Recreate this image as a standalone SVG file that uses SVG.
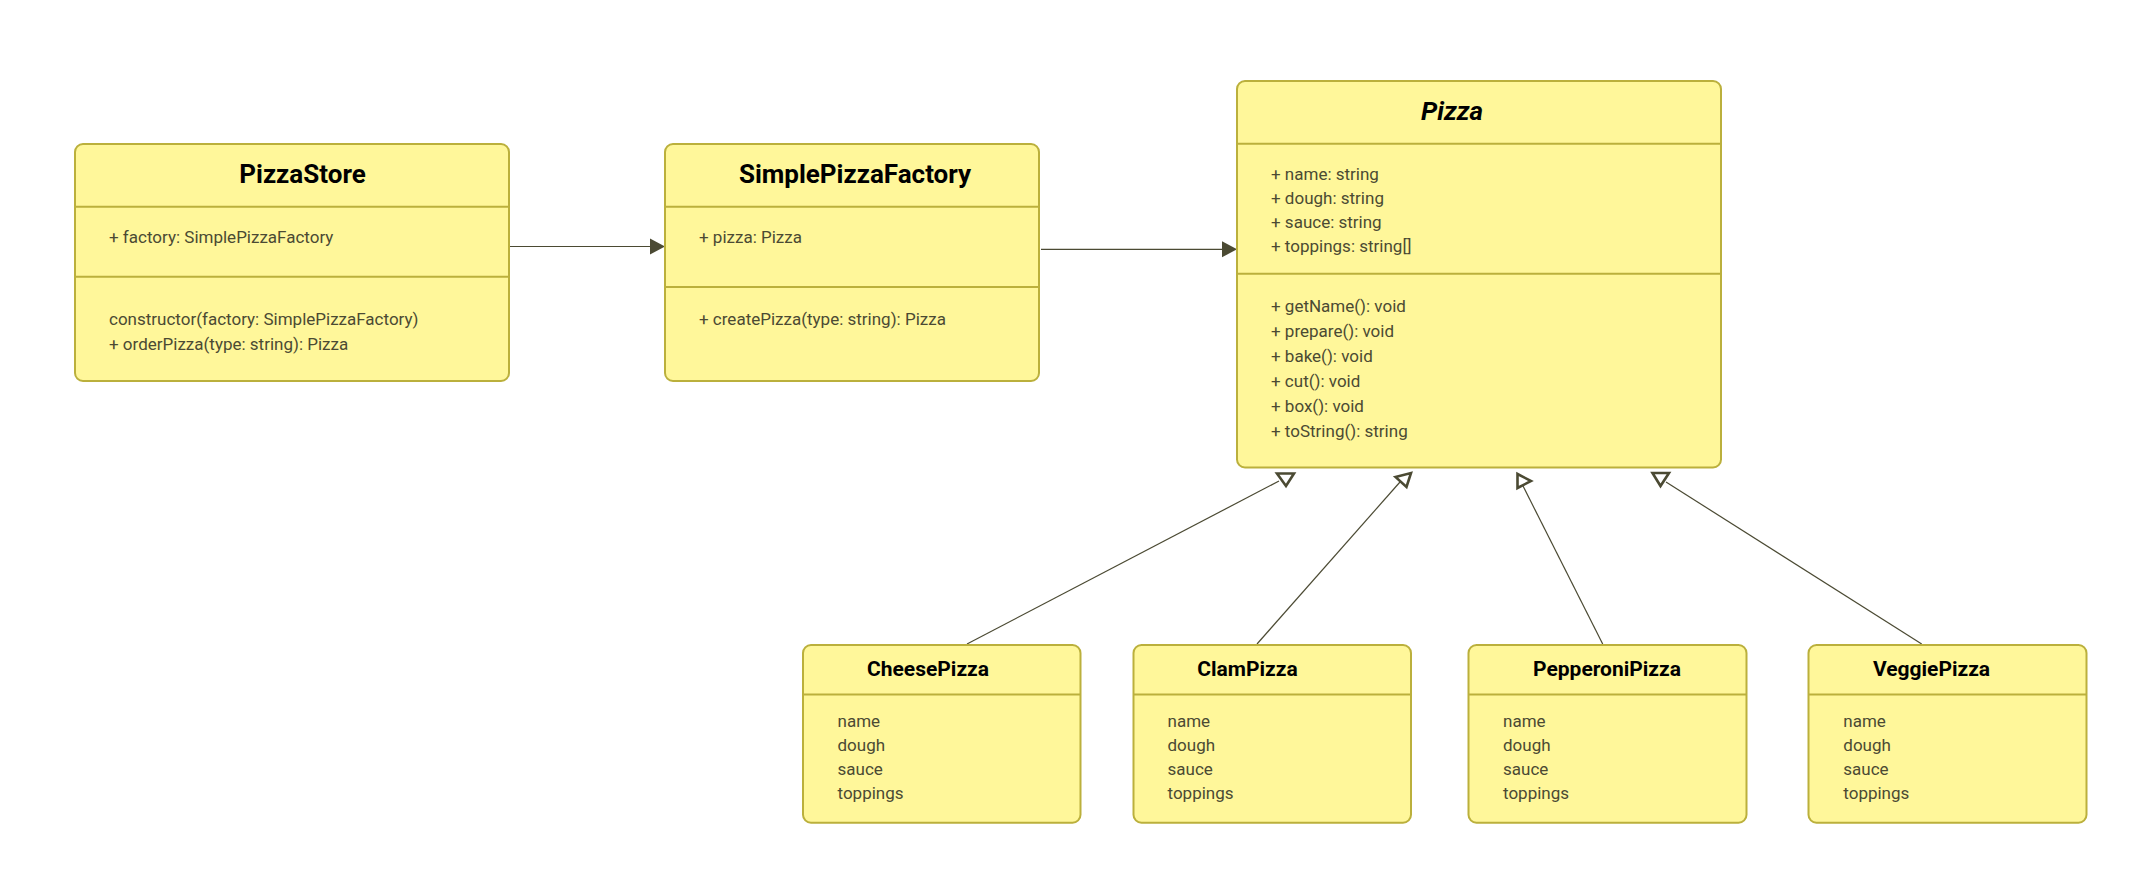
<svg xmlns="http://www.w3.org/2000/svg" width="2129" height="894" viewBox="0 0 2129 894">
<defs>
<style>
.box{fill:#fff79a;stroke:#bbb03c;stroke-width:2}
.div{stroke:#bbb03c;stroke-width:2}
.title{font-family:Roboto,"Liberation Sans",sans-serif;font-weight:bold;font-size:26px;fill:#000;text-anchor:middle}
.sub{font-size:21px}
.ital{font-style:italic}
.mem{font-family:Roboto,"Liberation Sans",sans-serif;font-size:17px;fill:#4b4a33}
.edge{fill:none;stroke:#4b4a33;stroke-width:1.2}
.arrow{fill:#4b4a33;stroke:none}
.ext{fill:#fff;stroke:#4b4a33;stroke-width:2.6;stroke-linejoin:miter}
</style>
</defs>
<rect width="2129" height="894" fill="#fff"/>
<g id="connectors">
<path class="edge" d="M510,246.5 H652"/>
<polygon class="arrow" points="650,238.5 665,246.5 650,254.5"/>
<path class="edge" d="M1041,249.3 H1224"/>
<polygon class="arrow" points="1222,241.3 1237,249.3 1222,257.3"/>
<path class="edge" d="M967,644 L1279,481"/>
<polygon class="ext" points="1277,473.5 1294,473.5 1286,486"/>
<path class="edge" d="M1257,644 L1400,482"/>
<polygon class="ext" points="1395.5,477 1411,473 1406.5,487"/>
<path class="edge" d="M1602.7,644 L1521,482"/>
<polygon class="ext" points="1517.5,474 1531,481 1517.5,488"/>
<path class="edge" d="M1921.7,644 L1666,482"/>
<polygon class="ext" points="1652.5,473 1669,473 1660.5,486"/>
</g>
<g id="PizzaStore">
<rect class="box" x="75" y="144" width="434" height="237" rx="8"/>
<line class="div" x1="75" y1="206.7" x2="509" y2="206.7"/>
<line class="div" x1="75" y1="276.7" x2="509" y2="276.7"/>
<text class="title" x="302.5" y="183">PizzaStore</text>
<text class="mem" x="109" y="243.3">+ factory: SimplePizzaFactory</text>
<text class="mem" x="109" y="325.3">constructor(factory: SimplePizzaFactory)</text>
<text class="mem" x="109" y="350.3">+ orderPizza(type: string): Pizza</text>
</g>
<g id="SimplePizzaFactory">
<rect class="box" x="665" y="144" width="374" height="237" rx="8"/>
<line class="div" x1="665" y1="206.7" x2="1039" y2="206.7"/>
<line class="div" x1="665" y1="287" x2="1039" y2="287"/>
<text class="title" x="855" y="183">SimplePizzaFactory</text>
<text class="mem" x="699" y="243.3">+ pizza: Pizza</text>
<text class="mem" x="699" y="325.3">+ createPizza(type: string): Pizza</text>
</g>
<g id="Pizza">
<rect class="box" x="1237" y="81" width="484" height="386.5" rx="8"/>
<line class="div" x1="1237" y1="143.7" x2="1721" y2="143.7"/>
<line class="div" x1="1237" y1="273.7" x2="1721" y2="273.7"/>
<text class="title ital" x="1452" y="120">Pizza</text>
<text class="mem" x="1271" y="180.3">+ name: string</text>
<text class="mem" x="1271" y="204.3">+ dough: string</text>
<text class="mem" x="1271" y="228.3">+ sauce: string</text>
<text class="mem" x="1271" y="252.3">+ toppings: string[]</text>
<text class="mem" x="1271" y="312.3">+ getName(): void</text>
<text class="mem" x="1271" y="337.3">+ prepare(): void</text>
<text class="mem" x="1271" y="362.3">+ bake(): void</text>
<text class="mem" x="1271" y="387.3">+ cut(): void</text>
<text class="mem" x="1271" y="412.3">+ box(): void</text>
<text class="mem" x="1271" y="437.3">+ toString(): string</text>
</g>
<g id="CheesePizza">
<rect class="box" x="803" y="645" width="277.5" height="177.7" rx="8"/>
<line class="div" x1="803" y1="694.5" x2="1080.5" y2="694.5"/>
<text class="title sub" x="928" y="676">CheesePizza</text>
<text class="mem" x="837.5" y="726.7">name</text>
<text class="mem" x="837.5" y="750.7">dough</text>
<text class="mem" x="837.5" y="774.7">sauce</text>
<text class="mem" x="837.5" y="798.7">toppings</text>
</g>
<g id="ClamPizza">
<rect class="box" x="1133.5" y="645" width="277.5" height="177.7" rx="8"/>
<line class="div" x1="1133.5" y1="694.5" x2="1411" y2="694.5"/>
<text class="title sub" x="1247.5" y="676">ClamPizza</text>
<text class="mem" x="1167.5" y="726.7">name</text>
<text class="mem" x="1167.5" y="750.7">dough</text>
<text class="mem" x="1167.5" y="774.7">sauce</text>
<text class="mem" x="1167.5" y="798.7">toppings</text>
</g>
<g id="PepperoniPizza">
<rect class="box" x="1468.5" y="645" width="278" height="177.7" rx="8"/>
<line class="div" x1="1468.5" y1="694.5" x2="1746.5" y2="694.5"/>
<text class="title sub" x="1607" y="676">PepperoniPizza</text>
<text class="mem" x="1503" y="726.7">name</text>
<text class="mem" x="1503" y="750.7">dough</text>
<text class="mem" x="1503" y="774.7">sauce</text>
<text class="mem" x="1503" y="798.7">toppings</text>
</g>
<g id="VeggiePizza">
<rect class="box" x="1808.5" y="645" width="278" height="177.7" rx="8"/>
<line class="div" x1="1808.5" y1="694.5" x2="2086.5" y2="694.5"/>
<text class="title sub" x="1931.5" y="676">VeggiePizza</text>
<text class="mem" x="1843.3" y="726.7">name</text>
<text class="mem" x="1843.3" y="750.7">dough</text>
<text class="mem" x="1843.3" y="774.7">sauce</text>
<text class="mem" x="1843.3" y="798.7">toppings</text>
</g>
</svg>
